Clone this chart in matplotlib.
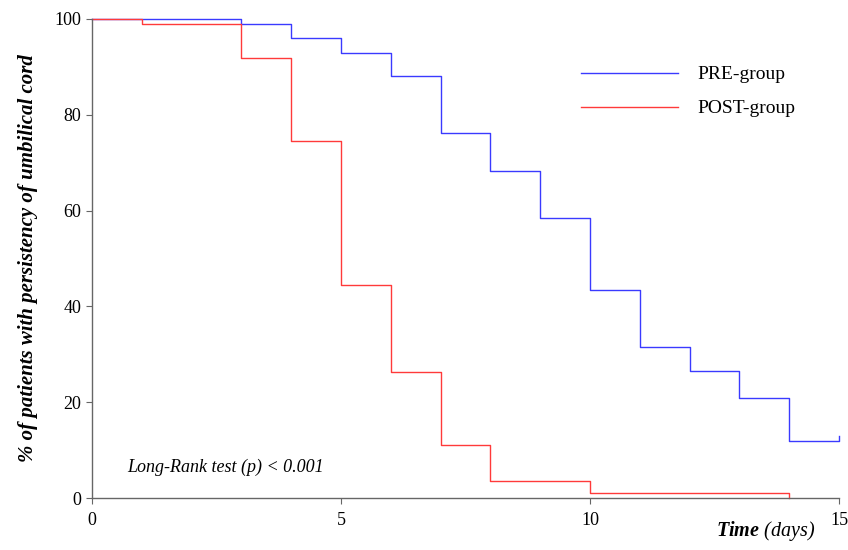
import matplotlib.pyplot as plt
import numpy as np

# Kaplan-Meier curves (step starts at each day)
pre_days = [0, 3, 4, 5, 6, 7, 8, 9, 10, 11, 12, 13, 14, 15]
pre_vals = [100, 99, 96, 93, 88, 76.2, 68.3, 58.5, 43.5, 31.6, 26.6, 20.8, 12, 12.9]
post_days = [0, 1, 3, 4, 5, 6, 7, 8, 10, 14]
post_vals = [100, 99, 91.8, 74.5, 44.5, 26.4, 11, 3.5, 1, 0]

plt.rcParams['font.family'] = 'Liberation Serif'
plt.rcParams['mathtext.fontset'] = 'custom'
plt.rcParams['mathtext.bf'] = 'Liberation Serif:italic:bold'

fig = plt.figure(figsize=(8.48, 5.5), dpi=100)
ax = fig.add_axes([0.1085, 0.0945, 0.881, 0.871])

ax.step(pre_days, pre_vals, where='post', color='#3a3aff', lw=1.0,
        label='PRE-group', clip_on=False)
ax.step(post_days, post_vals, where='post', color='#ff3a3a', lw=1.0,
        label='POST-group', clip_on=False)

ax.set_xlim(0, 15)
ax.set_ylim(0, 100)
ax.set_xticks([0, 5, 10, 15])
ax.set_yticks([0, 20, 40, 60, 80, 100])
for s in ['top', 'right']:
    ax.spines[s].set_visible(False)
for s in ['left', 'bottom']:
    ax.spines[s].set_color('#666666')
    ax.spines[s].set_linewidth(1.0)
ax.tick_params(colors='#666666', labelcolor='black', labelsize=13, length=4)
ax.tick_params(axis='x', pad=6)

ax.set_ylabel('% of patients with persistency of umbilical cord',
              fontsize=15, fontweight='bold', style='italic', labelpad=12)
fig.text(0.961, 0.012, r'$\mathbf{Time}$ (days)', ha='right', va='bottom',
         fontsize=14.5, style='italic')

ax.text(0.7, 6.5, 'Long-Rank test (p) < 0.001', fontsize=13, style='italic', va='center')

ax.legend(loc='upper left', bbox_to_anchor=(0.631, 0.939), frameon=False,
          handlelength=5.0, handletextpad=1.0, labelspacing=0.85, fontsize=14)

fig.savefig('out.png', dpi=100)
